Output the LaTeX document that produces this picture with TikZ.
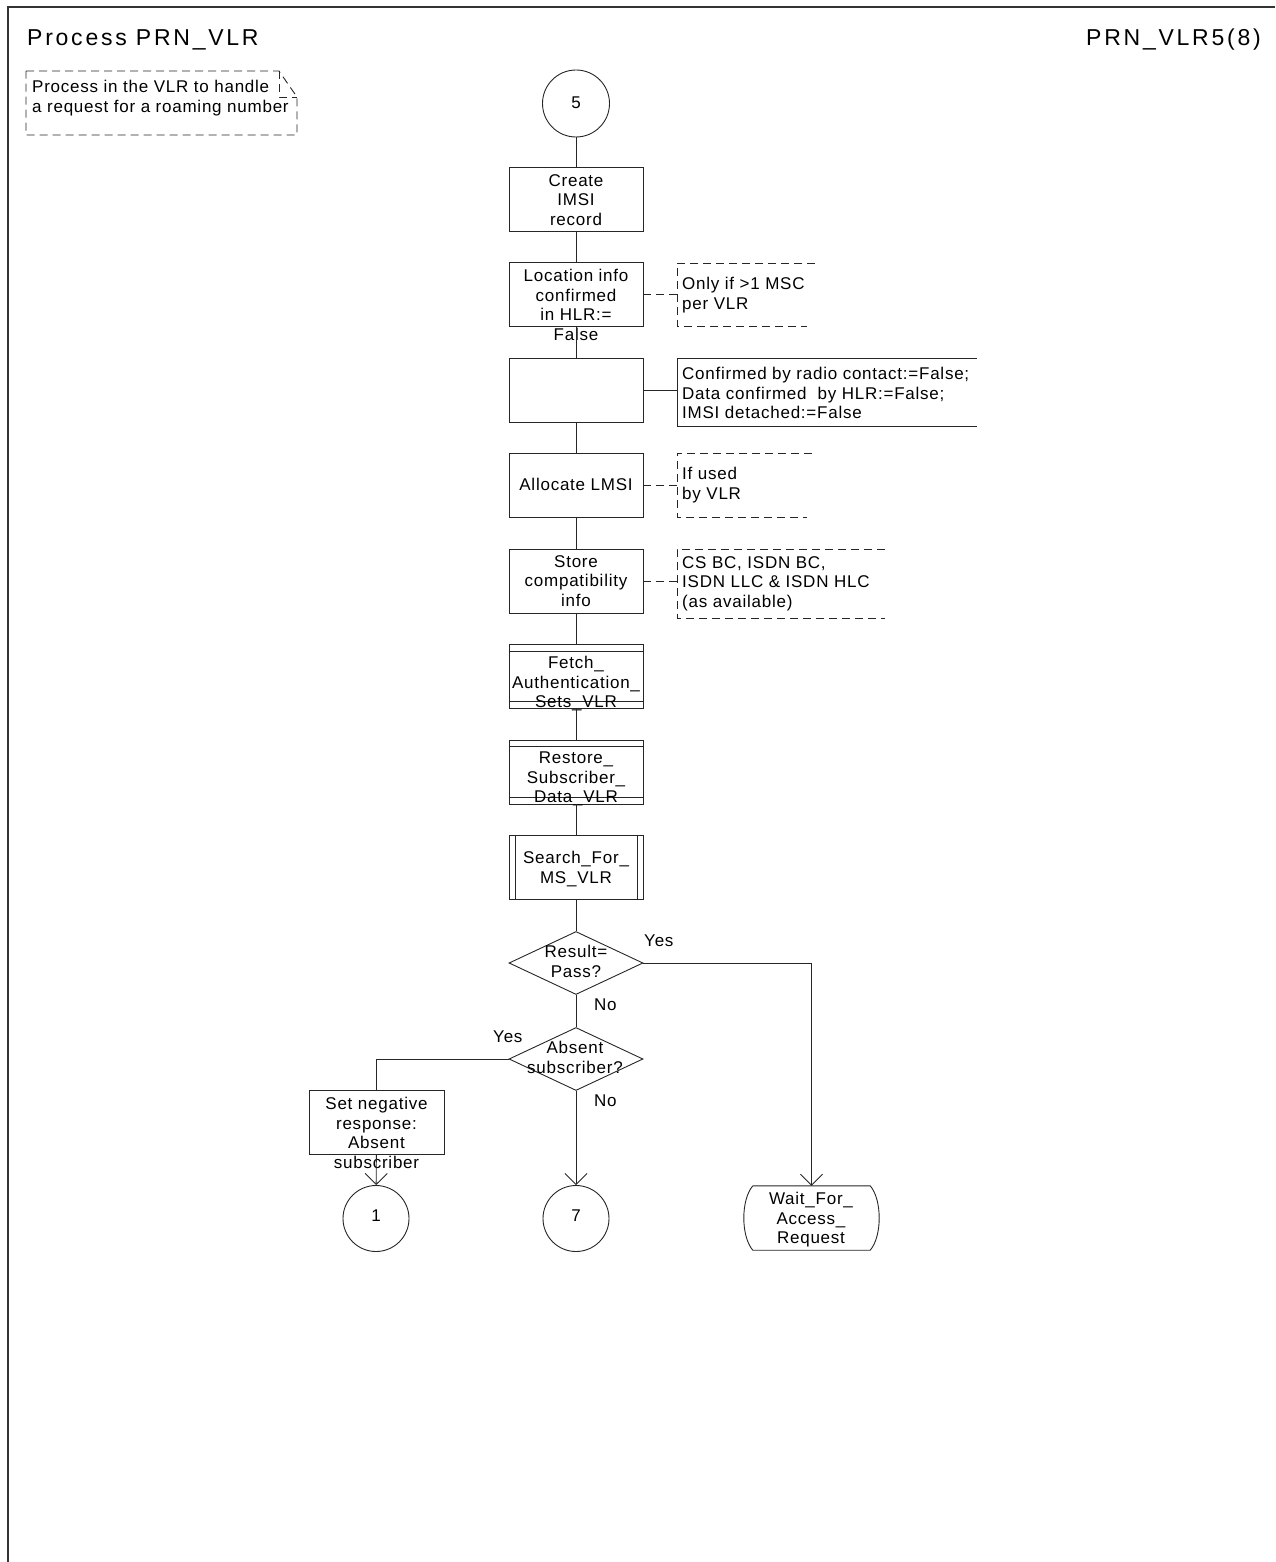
\documentclass[tikz,border=0pt]{standalone}
\usepackage{fontspec}
\setmainfont{Liberation Sans}[LetterSpace=4.5]
\newfontfamily\titlefont{Liberation Sans}[LetterSpace=12]
\usetikzlibrary{arrows.meta,shapes.geometric}

\begin{document}
\begin{tikzpicture}[x=1pt,y=-1pt,
  ln/.style={line width=0.9pt, draw=black!85},
  boxn/.style={ln, rectangle, minimum width=134pt, minimum height=64pt, inner sep=0pt},
  conn/.style={ln},
  arr/.style={ln, -{Straight Barb[length=11pt,width=22pt]}},
  dsh/.style={ln, dash pattern=on 8pt off 5pt},
  txt/.style={font=\fontsize{17}{19.5}\selectfont, inner sep=0pt, align=center, anchor=north},
  txtl/.style={txt, align=left, anchor=north west},
  txtb/.style={font=\fontsize{17}{19.5}\selectfont, inner sep=0pt, anchor=base},
  circ/.style={ln, circle, minimum size=67pt, inner sep=0pt},
  dia/.style={ln, diamond, minimum width=134pt, minimum height=63pt, inner sep=0pt},
  statebox/.style={rectangle, minimum width=117pt, minimum height=64pt, inner sep=0pt},
]
\useasboundingbox (0,0) rectangle (1275,1562);

% frame
\draw[line width=1.2pt, black!80] (8,1562) -- (8,7) -- (1275,7);

% header
\node[inner sep=0pt, anchor=base west, font=\titlefont\fontsize{23}{27}\selectfont] (title) at (27,46) {Process PRN\_VLR};
\node[inner sep=0pt, anchor=base east, font=\titlefont\fontsize{23}{27}\selectfont] (page) at (1261,46) {PRN\_VLR5(8)};

% folded comment
\draw[dsh] (26,71) -- (279,71) -- (297,97) -- (297,135) -- (26,135) -- cycle;
\draw[dsh] (279,71) -- (279,97) -- (297,97);
\node[txtl] (notetxt) at (32,80) {Process in the VLR to handle\\a request for a roaming number};

% main column
\node[circ] (c5) at (576,103.5) {};
\node[txtb] (t5) at (576,108.5) {5};

\node[boxn] (create) at (576,199) {};
\node[txt] (tcreate) at (576,174) {Create\\IMSI\\record};

\node[boxn] (loc) at (576,294.5) {};
\node[txt] (tloc) at (576,269) {Location info\\confirmed\\in HLR:=\\False};

\node[boxn] (empty) at (576,390) {};

\node[boxn] (alloc) at (576,485) {};
\node[txtb] (talloc) at (576,490) {Allocate LMSI};

\node[boxn] (store) at (576,581) {};
\node[txt] (tstore) at (576,555) {Store\\compatibility\\info};

\node[boxn] (fetch) at (576,676) {};
\draw[ln] ([yshift=-8pt]fetch.north west) -- ([yshift=-8pt]fetch.north east);
\draw[ln] ([yshift=7pt]fetch.south west) -- ([yshift=7pt]fetch.south east);
\node[txt] (tfetch) at (576,656) {Fetch\_\\Authentication\_\\Sets\_VLR};

\node[boxn] (restore) at (576,772) {};
\draw[ln] ([yshift=-7pt]restore.north west) -- ([yshift=-7pt]restore.north east);
\draw[ln] ([yshift=7pt]restore.south west) -- ([yshift=7pt]restore.south east);
\node[txt] (trestore) at (576,752) {Restore\_\\Subscriber\_\\Data\_VLR};

\node[boxn] (search) at (576,867.5) {};
\draw[ln] ([xshift=7pt]search.north west) -- ([xshift=7pt]search.south west);
\draw[ln] ([xshift=-6pt]search.north east) -- ([xshift=-6pt]search.south east);
\node[txt] (tsearch) at (576,851) {Search\_For\_\\MS\_VLR};

\node[dia] (d1) at (576,963) {};
\node[txt] (td1) at (576,945) {Result=\\Pass?};

\node[dia] (d2) at (576,1059) {};
\node[txt] (td2) at (575,1041) {Absent\\subscriber?};

\node[boxn, minimum width=135pt] (setneg) at (376.5,1122.5) {};
\node[txt] (tsetneg) at (376.5,1097) {Set negative\\response:\\Absent\\subscriber};

\node[circ, minimum size=66pt] (c1) at (376,1218.5) {};
\node[txtb] (t1) at (376,1221) {1};
\node[circ, minimum size=66pt] (c7) at (576,1218.5) {};
\node[txtb] (t7) at (576,1221) {7};

\node[statebox] (wait) at (811.5,1218) {};
\draw[ln] (wait.north west) -- (wait.north east)
  .. controls +(12,14) and +(12,-14) .. (wait.south east)
  -- (wait.south west)
  .. controls +(-12,-14) and +(-12,14) .. (wait.north west);
\node[txt] (twait) at (811,1192) {Wait\_For\_\\Access\_\\Request};

% branch labels
\node[txtb, anchor=base west] (yes1) at (644,946) {Yes};
\node[txtb, anchor=base west] (no1) at (594,1010) {No};
\node[txtb, anchor=base west] (yes2) at (493,1042) {Yes};
\node[txtb, anchor=base west] (no2) at (594,1106) {No};

% connectors
\draw[conn] (c5) -- (create);
\draw[conn] (create) -- (loc);
\draw[conn] (loc) -- (empty);
\draw[conn] (empty) -- (alloc);
\draw[conn] (alloc) -- (store);
\draw[conn] (store) -- (fetch);
\draw[conn] (fetch) -- (restore);
\draw[conn] (restore) -- (search);
\draw[conn] (search) -- (d1);
\draw[conn] (d1) -- (d2);
\draw[arr] (d2) -- (c7);
\draw[conn] (d2.west) -| (setneg.north);
\draw[arr] (setneg) -- (c1);
\draw[arr] (d1.east) -| (wait.north);

% comments
\coordinate (n1) at (677,294.5);
\draw[dsh] (loc.east) -- (n1);
\draw[dsh] (815,263) -- (677,263) -- (677,326) -- (807,326);
\node[txtl] (tn1) at (682,277) {Only if >1 MSC\\per VLR};

\coordinate (n2) at (677,390);
\draw[conn] (empty.east) -- (n2);
\draw[ln] (977,358) -- (677,358) -- (677,426) -- (977,426);
\node[txtl] (tn2) at (682,367) {Confirmed by radio contact:=False;\\Data confirmed \ by HLR:=False;\\IMSI detached:=False};

\coordinate (n3) at (677,485);
\draw[dsh] (alloc.east) -- (n3);
\draw[dsh] (812,453) -- (677,453) -- (677,517) -- (807,517);
\node[txtl] (tn3) at (682,467) {If used\\by VLR};

\coordinate (n4) at (677,581);
\draw[dsh] (store.east) -- (n4);
\draw[dsh] (885,549) -- (677,549) -- (677,618) -- (885,618);
\node[txtl] (tn4) at (682,556) {CS BC, ISDN BC,\\ISDN LLC \& ISDN HLC\\(as available)};
\end{tikzpicture}
\end{document}
